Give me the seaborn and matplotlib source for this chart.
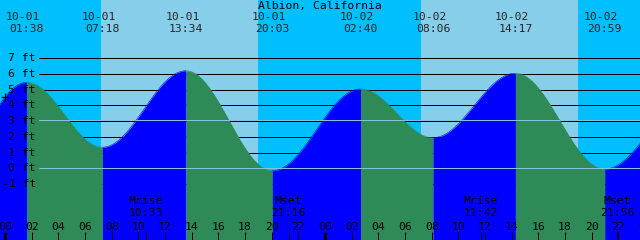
import numpy as np
import pandas as pd
import matplotlib
matplotlib.use("Agg")
import matplotlib.pyplot as plt
import matplotlib.transforms as mtransforms
import seaborn as sns

# ---------------- data ----------------
title = "Albion, California"
label_dates = ["10-01", "10-01", "10-01", "10-01", "10-02", "10-02", "10-02", "10-02"]
label_times = ["01:38", "07:18", "13:34", "20:03", "02:40", "08:06", "14:17", "20:59"]
label_heights = [5.47, 1.34, 6.21, -0.15, 5.05, 1.95, 6.05, -0.05]
# extremes just outside the window (hours from 10-01 00:00, ft)
prev_time, prev_height = -4.5, -0.2
next_time, next_height = 51.7, 4.8

sunrise_hours = [7.2, 31.2]
sunset_hours = [18.95, 42.95]

moon_events = ["Mrise", "Mset", "Mrise", "Mset"]
moon_times = ["10:33", "21:16", "11:42", "21:56"]
moon_days = [0, 0, 1, 1]

y_levels = [7, 6, 5, 4, 3, 2, 1, 0, -1]
ref_levels = [3.05, 0.0]

# ---------------- helpers ----------------
def hours(day_idx, hhmm):
    hh, mm = hhmm.split(":")
    return 24 * day_idx + int(hh) + int(mm) / 60.0

day_index = {"10-01": 0, "10-02": 1}
ext_t = [prev_time] + [hours(day_index[d], t) for d, t in zip(label_dates, label_times)] + [next_time]
ext_h = [prev_height] + label_heights + [next_height]

W, H = 640, 240
PX_PER_H = 13.333
X0 = 5.0
Y0PX = 168.3
PX_PER_FT = 15.71

def ft(py):
    return (Y0PX - py) / PX_PER_FT

xmin = -X0 / PX_PER_H
xmax = (W - X0) / PX_PER_H
ymin, ymax = ft(H), ft(0)

sns.set_style("white")
plt.rcParams["font.family"] = ["DejaVu Sans Mono", "DejaVu Sans"]

fig = plt.figure(figsize=(6.4, 2.4), dpi=100)
ax = fig.add_axes([0, 0, 1, 1])
ax.set_xlim(xmin, xmax)
ax.set_ylim(ymin, ymax)
ax.axis("off")

NIGHT = "#00BFFF"
DAY = "#87CEEB"
GREEN = "#2E8B57"
BLUE = "#0000FF"
LW1 = 0.72  # one pixel

# background day/night
ax.axvspan(xmin, xmax, color=NIGHT, lw=0, zorder=0)
for sr, ss in zip(sunrise_hours, sunset_hours):
    ax.axvspan(sr, ss, color=DAY, lw=0, zorder=0.5)

# black level lines (under the tide fill)
for lv in y_levels:
    ax.axhline(lv, xmin=39 / W, xmax=1, color="black", lw=LW1, zorder=1, snap=True)

# tide fill, rising = blue, falling = green
for i in range(len(ext_t) - 1):
    t0, t1 = ext_t[i], ext_t[i + 1]
    h0, h1 = ext_h[i], ext_h[i + 1]
    t = np.linspace(t0, t1, 300)
    h = h0 + (h1 - h0) * (1 - np.cos(np.pi * (t - t0) / (t1 - t0))) / 2
    col = BLUE if h1 > h0 else GREEN
    ax.fill_between(t, ymin - 1, h, color=col, lw=0, zorder=3)
    df = pd.DataFrame({"t": t, "h": h})
    sns.lineplot(data=df, x="t", y="h", color=col, lw=0.4, ax=ax, zorder=3, estimator=None)
ax.set_xlim(xmin, xmax)
ax.set_ylim(ymin, ymax)

# reference lines over the fill
for lv in ref_levels:
    ax.axhline(lv, xmin=39 / W, xmax=1, color="#86C3D8", lw=LW1, zorder=4, snap=True)

# current level marker
h_now = prev_height + (ext_h[1] - prev_height) * (1 - np.cos(np.pi * (0 - prev_time) / (ext_t[1] - prev_time))) / 2
ax.plot([0], [h_now], marker="+", color="black", ms=6, mew=0.9, zorder=6, clip_on=False)

trans = mtransforms.blended_transform_factory(ax.transData, fig.transFigure)
trans_date = mtransforms.offset_copy(trans, fig=fig, x=-3.5, y=0, units="dots")
FS = 8.2

def fy(py):
    return 1 - py / H

ax.text((320 - X0) / PX_PER_H, fy(6), title, transform=trans,
        ha="center", va="center", fontsize=FS, color="black", zorder=7)

for d, tm in zip(label_dates, label_times):
    tx = hours(day_index[d], tm)
    ax.text(tx, fy(17.5), d, transform=trans_date, ha="center", va="center", fontsize=FS, zorder=7)
    ax.text(tx, fy(29.5), tm, transform=trans, ha="center", va="center", fontsize=FS, zorder=7)

# y labels
for lv in y_levels:
    fig.text(36 / W, 1 - (Y0PX - lv * PX_PER_FT) / H, f"{lv} ft", ha="right", va="center",
             fontsize=FS, color="black", zorder=7)

# hour ticks and labels
tick_hours = list(range(0, 50, 2))
for th in tick_hours:
    ax.text(th, fy(226.5), f"{th % 24:02d}", transform=trans, ha="center", va="center",
            fontsize=FS, color="black", zorder=7, clip_on=False)
    lw = 2.2 if th % 24 == 0 else LW1
    ax.vlines(th, ft(240), ft(232), colors="black", lw=lw, zorder=6, snap=True)

# moon events
for ev, tm, dd in zip(moon_events, moon_times, moon_days):
    tx = hours(dd, tm)
    ax.text(tx, fy(201.5), ev, transform=trans, ha="center", va="center", fontsize=FS,
            color="black", zorder=7)
    ax.text(tx, fy(213), tm, transform=trans, ha="center", va="center", fontsize=FS,
            color="black", zorder=7)
    ax.vlines(tx, ft(240), ft(232), colors="black", lw=LW1, zorder=6, snap=True)

fig.savefig("out.png", dpi=100)
